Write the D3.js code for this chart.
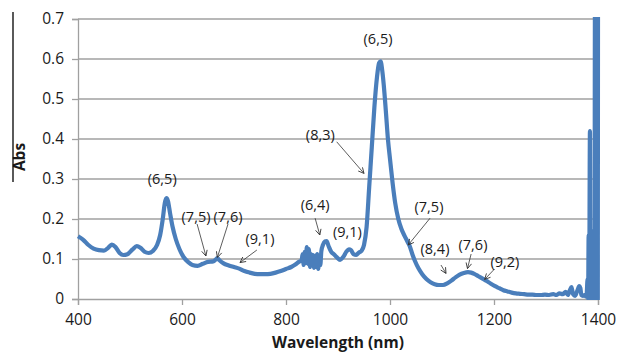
<!DOCTYPE html>
<html>
<head>
<meta charset="utf-8">
<script src="https://cdn.jsdelivr.net/npm/d3@7"></script>
<style>
  body { margin: 0; background: #fff; }
  svg text { font-family: "Open Sans", "Liberation Sans", sans-serif; fill: #1a1a1a; }
</style>
</head>
<body>
<svg id="chart" width="619" height="354"></svg>
<script>
'use strict'

// absorbance spectrum
var wavelength = [400,410,420,430,440,450,458,465,472,480,487,495,505,513,520,528,536,544,552,558,563,567,570,573,577,582,588,595,603,612,620,630,640,650,660,665,668,672,680,690,700,710,720,730,740,750,760,770,780,790,800,810,818,825,830,
  832,834,836,838,840,842,844,846,848,850,852,854,856,858,860,862,864,866,868,871,875,878,882,887,892,898,904,910,916,921,925,930,935,940,945,950,955,960,965,970,975,979,982,985,988,992,996,1000,1005,1010,1016,1022,1028,1033,1038,1043,1048,1055,1062,1070,1078,1086,1094,1102,1110,1118,1126,1134,1142,1150,1156,1162,1170,1178,1186,1194,1202,1210,1218,1226,1234,1242,1250,1258,1266,1274,1282,1290,1298,1306,1314,1320,1326,1332,1338,1342,1346,1349,1352,1356,1360,1364,1366,1368,1371,1374,1377,
  1378,1380,1381,1382,1383,1384.5,1385.5,1386.5,1387.5,1388.5,1389.5,1390.5,1391.5,1392.5,1393.3,1394.2,1395,1395.8,1396.6,1397.4,1398.2,1399,1399.6,1400];
var absorbance = [0.157,0.148,0.135,0.126,0.122,0.121,0.128,0.136,0.130,0.115,0.110,0.112,0.124,0.132,0.128,0.118,0.115,0.120,0.135,0.160,0.200,0.240,0.252,0.245,0.215,0.180,0.150,0.125,0.105,0.092,0.085,0.083,0.088,0.093,0.094,0.099,0.102,0.097,0.089,0.084,0.080,0.076,0.070,0.066,0.063,0.062,0.062,0.063,0.066,0.070,0.075,0.080,0.086,0.093,0.097,
  0.112,0.085,0.118,0.090,0.130,0.088,0.125,0.080,0.112,0.085,0.110,0.078,0.108,0.080,0.112,0.075,0.108,0.085,0.120,0.135,0.144,0.145,0.132,0.118,0.112,0.104,0.098,0.105,0.118,0.124,0.122,0.112,0.110,0.116,0.120,0.135,0.180,0.280,0.380,0.480,0.555,0.590,0.594,0.572,0.535,0.470,0.400,0.350,0.290,0.240,0.200,0.175,0.158,0.145,0.132,0.112,0.095,0.076,0.062,0.050,0.042,0.037,0.035,0.035,0.039,0.046,0.054,0.061,0.065,0.067,0.066,0.063,0.057,0.051,0.045,0.038,0.032,0.027,0.022,0.019,0.016,0.014,0.013,0.012,0.011,0.011,0.010,0.010,0.011,0.010,0.012,0.010,0.014,0.012,0.018,0.010,0.022,0.030,0.012,0.008,0.020,0.032,0.028,0.010,0.008,0.010,0.006,
  0.008,0.05,0.0,0.16,0.0,0.42,0.0,0.17,0.0,0.17,0.0,0.17,0.0,0.17,0.0,0.78,0.0,0.78,0.0,0.78,0.0,0.78,0.0,0.78];

var xTicks = [400, 600, 800, 1000, 1200, 1400];
var yTicks = [0, 0.1, 0.2, 0.3, 0.4, 0.5, 0.6, 0.7];

// chirality labels: text spot and arrow (from -> to), in data units
var labels    = ['(6,5)', '(7,5)', '(7,6)', '(9,1)', '(6,4)', '(9,1)', '(8,3)', '(6,5)', '(7,5)', '(8,4)', '(7,6)', '(9,2)'];
var labelW    = [562, 627, 688.5, 750, 856, 918, 866, 977, 1075, 1086.5, 1159.6, 1221];
var labelA    = [0.30, 0.205, 0.205, 0.15, 0.235, 0.168, 0.41, 0.651, 0.231, 0.125, 0.135, 0.093];
var arrowFrom = [null, [629, 0.1875], [688.5, 0.1875], [744, 0.1225], [856, 0.202], null, [897.5, 0.393], null, [1077, 0.202], [1098, 0.085], [1156, 0.1125], [1201, 0.075]];
var arrowTo   = [null, [646, 0.1075], [668, 0.104], [711.5, 0.091], [865, 0.16], null, [950, 0.314], null, [1035, 0.135], [1107.7, 0.064], [1149, 0.076], [1182, 0.049]];

var svg = d3.select('#chart');

var x = d3.scaleLinear().domain([400, 1400]).range([78, 598]);
var y = d3.scaleLinear().domain([0, 0.7]).range([299, 19]);

// gridlines
svg.append('g')
  .selectAll('line')
  .data(yTicks.slice(1))
  .enter()
  .append('line')
  .attr('x1', x(400))
  .attr('x2', x(1400))
  .attr('y1', function(d){ return y(d); })
  .attr('y2', function(d){ return y(d); })
  .attr('stroke', '#a0a0a0')
  .attr('stroke-width', 1.3);

var yAxis = svg.append('g')
  .attr('transform', 'translate(' + x(400) + ',0)')
  .call(d3.axisLeft(y).tickValues(yTicks).tickSize(6).tickPadding(8)
    .tickFormat(function(d){ return d === 0 ? '0' : d3.format('.1f')(d); }));

var xAxis = svg.append('g')
  .attr('transform', 'translate(0,' + y(0) + ')')
  .call(d3.axisBottom(x).tickValues(xTicks).tickSize(6).tickPadding(9).tickFormat(d3.format('d')));

[yAxis, xAxis].forEach(function(a){
  a.selectAll('path, line').attr('stroke', '#a0a0a0').attr('stroke-width', 1.3);
  a.selectAll('text').style('font-size', '15.5px').attr('fill', '#1a1a1a');
});

// spectrum
svg.append('defs').append('clipPath').attr('id', 'plotClip')
  .append('rect')
  .attr('x', x(400) - 3).attr('y', y(0.7) - 2)
  .attr('width', x(1400) - x(400) + 6).attr('height', y(0) - y(0.7) + 3);

var pts = wavelength.map(function(w, i){ return [w, absorbance[i]]; });
var line = d3.line()
  .x(function(d){ return x(d[0]); })
  .y(function(d){ return y(d[1]); })
  .curve(d3.curveMonotoneX);

svg.append('path')
  .datum(pts)
  .attr('clip-path', 'url(#plotClip)')
  .attr('d', line)
  .attr('fill', 'none')
  .attr('stroke', '#4a7ebb')
  .attr('stroke-width', 4.2)
  .attr('stroke-linejoin', 'round');

// arrows
svg.select('defs').append('marker')
  .attr('id', 'head')
  .attr('viewBox', '0 0 10 10')
  .attr('refX', 9).attr('refY', 5)
  .attr('markerWidth', 7).attr('markerHeight', 7)
  .attr('markerUnits', 'userSpaceOnUse')
  .attr('orient', 'auto')
  .append('path')
  .attr('d', 'M1,1 L9,5 L1,9')
  .attr('fill', 'none')
  .attr('stroke', '#333')
  .attr('stroke-width', 1.2);

labels.forEach(function(t, i){
  if( arrowFrom[i] ){
    svg.append('line')
      .attr('x1', x(arrowFrom[i][0])).attr('y1', y(arrowFrom[i][1]))
      .attr('x2', x(arrowTo[i][0])).attr('y2', y(arrowTo[i][1]))
      .attr('stroke', '#333')
      .attr('stroke-width', 0.8)
      .attr('marker-end', 'url(#head)');
  }
  svg.append('text')
    .attr('x', x(labelW[i]))
    .attr('y', y(labelA[i]))
    .attr('dy', '0.35em')
    .attr('text-anchor', 'middle')
    .style('font-size', '14.5px')
    .text(t);
});

// axis titles
svg.append('text')
  .attr('x', (x(400) + x(1400)) / 2)
  .attr('y', 348)
  .attr('text-anchor', 'middle')
  .style('font-size', '15.5px')
  .style('font-weight', 'bold')
  .text('Wavelength (nm)');

svg.append('text')
  .attr('transform', 'translate(25,157) rotate(-90)')
  .attr('text-anchor', 'middle')
  .style('font-size', '15.5px')
  .style('font-weight', 'bold')
  .text('Abs');

svg.append('line')
  .attr('x1', 13).attr('x2', 13)
  .attr('y1', 12).attr('y2', 182)
  .attr('stroke', '#000')
  .attr('stroke-width', 1.3);
</script>
</body>
</html>
